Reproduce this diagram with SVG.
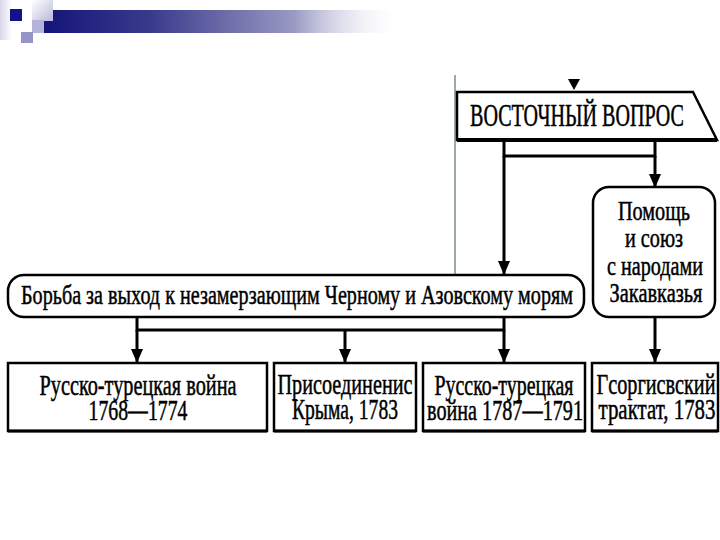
<svg xmlns="http://www.w3.org/2000/svg" width="720" height="540" viewBox="0 0 720 540">
<defs>
<linearGradient id="bar" x1="0" y1="0" x2="1" y2="0">
<stop offset="0" stop-color="#14147a"/>
<stop offset="0.3" stop-color="#3a3a8c"/>
<stop offset="0.7" stop-color="#9a9ac4"/>
<stop offset="1" stop-color="#ffffff" stop-opacity="0"/>
</linearGradient>
<linearGradient id="sq1" x1="0" y1="0" x2="1" y2="1">
<stop offset="0" stop-color="#ffffff"/>
<stop offset="1" stop-color="#b8b8dc"/>
</linearGradient>
<linearGradient id="edge" x1="0" y1="0" x2="1" y2="0">
<stop offset="0" stop-color="#d8d8ec"/>
<stop offset="1" stop-color="#ffffff"/>
</linearGradient>
<marker id="ah" viewBox="0 0 14 12" refX="14" refY="6" markerWidth="14" markerHeight="12" markerUnits="userSpaceOnUse" orient="auto">
<path d="M0,0 L14,6 L0,12 Z" fill="#000"/>
</marker>
<style>
.box{fill:#fff;stroke:#000;stroke-width:2.5}
.t{font-family:"Liberation Serif","DejaVu Serif",serif;fill:#000;stroke:#000;stroke-width:0.5;text-anchor:middle}
.c{fill:none;stroke:#000;stroke-width:3}
.ca{fill:none;stroke:#000;stroke-width:3}
</style>
</defs>

<g id="logo">
<rect x="0" y="0" width="12" height="40" fill="url(#edge)"/>
<rect x="43" y="10" width="360" height="23" fill="url(#bar)"/>
<rect x="32" y="0" width="21" height="21" fill="url(#sq1)"/>
<rect x="32" y="20" width="12" height="13" fill="#b4b4da"/>
<rect x="10" y="9" width="12" height="12" fill="#12128a"/>
<rect x="21" y="32" width="12" height="11" fill="#9494c8"/>
</g>

<g id="artifacts">
<line x1="455" y1="75" x2="455" y2="292" stroke="#7d8f86" stroke-width="1.5"/>
<polygon points="568,79 580,79 574,90" fill="#000"/>
</g>

<g id="connectors">
<polyline class="c" points="504,141 504,156 655,156 655,141"/>
<line class="ca" x1="504" y1="156" x2="504" y2="275" marker-end="url(#ah)"/>
<line class="ca" x1="655" y1="156" x2="655" y2="188" marker-end="url(#ah)"/>
<polyline class="c" points="137,318 137,330 504,330 504,318"/>
<line class="ca" x1="137" y1="330" x2="137" y2="363" marker-end="url(#ah)"/>
<line class="ca" x1="345" y1="330" x2="345" y2="363" stroke-width="1.5" marker-end="url(#ah)"/>
<line class="ca" x1="504" y1="330" x2="504" y2="363" marker-end="url(#ah)"/>
<line class="ca" x1="655" y1="317" x2="655" y2="363" marker-end="url(#ah)"/>
</g>

<g id="vostochny">
<polygon class="box" points="457,92 693,92 717,140 457,140"/>
<line x1="457" y1="140" x2="717" y2="140" stroke="#000" stroke-width="4"/>
<text class="t" x="577" y="126" font-size="31" textLength="214" lengthAdjust="spacingAndGlyphs">ВОСТОЧНЫЙ ВОПРОС</text>
</g>

<g id="borba">
<rect class="box" x="8" y="275" width="576" height="42" rx="16" ry="16"/>
<text class="t" x="297" y="304" font-size="28" textLength="552" lengthAdjust="spacingAndGlyphs">Борьба за выход к незамерзающим Черному и Азовскому морям</text>
</g>

<g id="pomosch">
<rect class="box" x="593" y="187" width="122" height="130" rx="16" ry="16"/>
<text class="t" x="654" y="220" font-size="27" textLength="72" lengthAdjust="spacingAndGlyphs">Помощь</text>
<text class="t" x="654" y="247" font-size="27" textLength="58" lengthAdjust="spacingAndGlyphs">и союз</text>
<text class="t" x="655" y="275" font-size="27" textLength="96" lengthAdjust="spacingAndGlyphs">с народами</text>
<text class="t" x="656" y="302" font-size="27" textLength="93" lengthAdjust="spacingAndGlyphs">Закавказья</text>
</g>

<g id="war1768">
<rect class="box" x="8" y="363" width="259" height="68"/>
<line x1="8" y1="431" x2="267" y2="431" stroke="#000" stroke-width="3"/>
<text class="t" x="138" y="395" font-size="29" textLength="197" lengthAdjust="spacingAndGlyphs">Русско-турецкая война</text>
<text class="t" x="138" y="420" font-size="29" textLength="99" lengthAdjust="spacingAndGlyphs">1768—1774</text>
</g>

<g id="crimea">
<rect class="box" x="274" y="363" width="142" height="68"/>
<line x1="274" y1="431" x2="416" y2="431" stroke="#000" stroke-width="3"/>
<text class="t" x="345" y="394" font-size="29" textLength="135" lengthAdjust="spacingAndGlyphs">Присоединенис</text>
<text class="t" x="345" y="419" font-size="29" textLength="106" lengthAdjust="spacingAndGlyphs">Крыма, 1783</text>
</g>

<g id="war1787">
<rect class="box" x="423" y="363" width="162" height="68"/>
<line x1="423" y1="431" x2="585" y2="431" stroke="#000" stroke-width="3"/>
<text class="t" x="504" y="395" font-size="29" textLength="139" lengthAdjust="spacingAndGlyphs">Русско-турецкая</text>
<text class="t" x="505" y="420" font-size="29" textLength="156" lengthAdjust="spacingAndGlyphs">война 1787—1791</text>
</g>

<g id="georgievsk">
<rect class="box" x="592" y="363" width="126" height="68"/>
<line x1="592" y1="431" x2="718" y2="431" stroke="#000" stroke-width="3"/>
<text class="t" x="656" y="394" font-size="29" textLength="119" lengthAdjust="spacingAndGlyphs">Гсоргисвский</text>
<text class="t" x="657" y="419" font-size="29" textLength="117" lengthAdjust="spacingAndGlyphs">трактат, 1783</text>
</g>
</svg>
